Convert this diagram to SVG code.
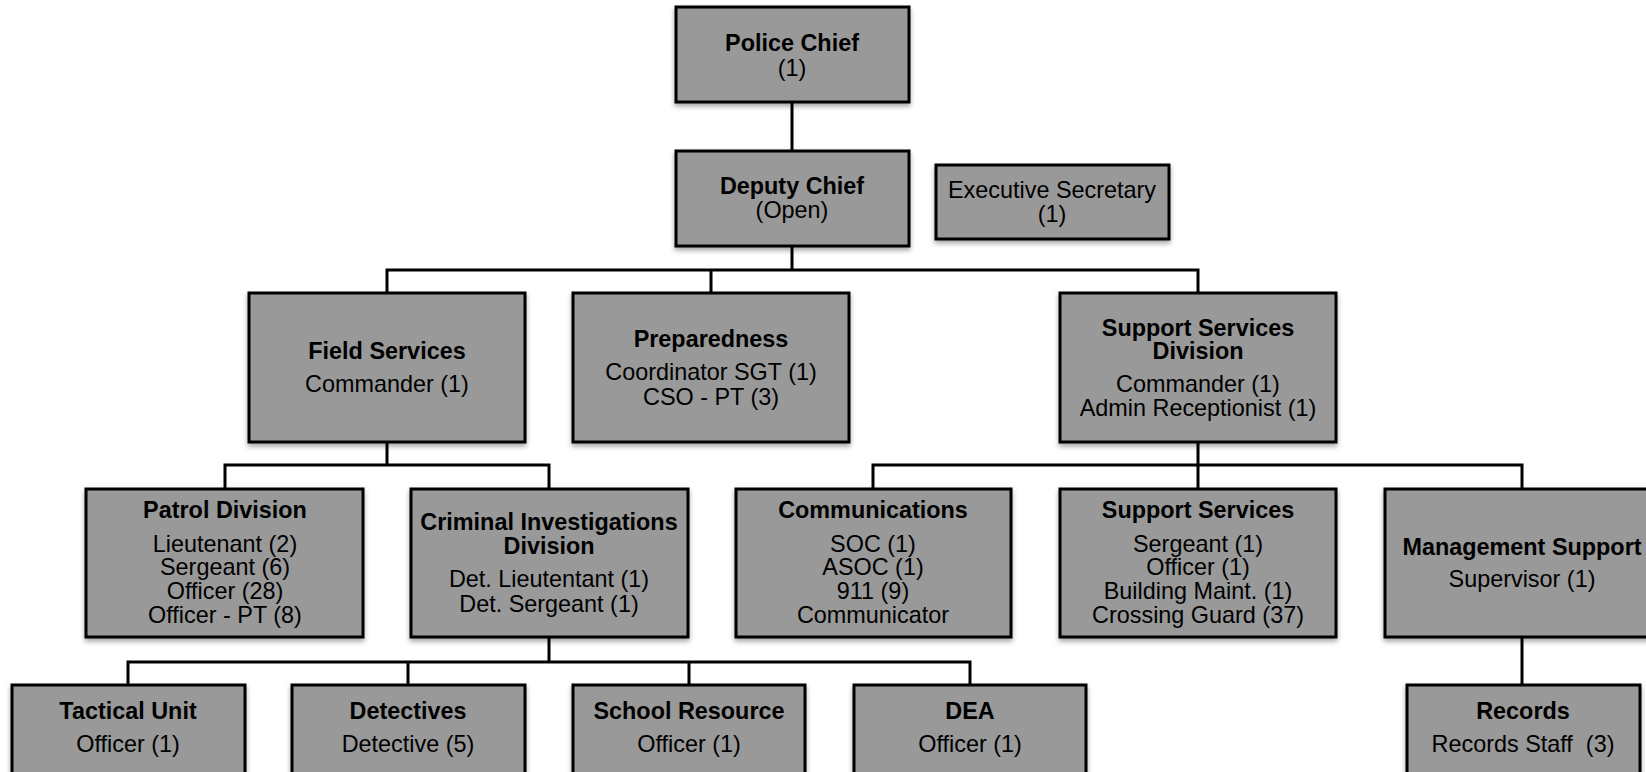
<svg xmlns="http://www.w3.org/2000/svg" width="1646" height="772" viewBox="0 0 1646 772">
<style>
.box{fill:#999999;stroke:#000;stroke-width:3;filter:url(#sh)}
.t{font-family:"Liberation Sans",Arial,sans-serif;font-size:23.4px;fill:#000;text-anchor:middle}
.b{font-weight:bold}
.c{stroke:#000;stroke-width:3;fill:none}
</style>
<defs>
<filter id="sh" x="-10%" y="-10%" width="120%" height="130%">
<feDropShadow dx="0" dy="3" stdDeviation="2.5" flood-color="#000" flood-opacity="0.35"/>
</filter>
</defs>
<rect width="1646" height="772" fill="#fff"/>
<g id="connectors">
<path class="c" d="M792 102V151"/>
<path class="c" d="M792 246V270M387 293V270H1198V293M711 270V293"/>
<path class="c" d="M387 442V465M225 489V465H549V489"/>
<path class="c" d="M1198 442V489M873 489V465H1522V489"/>
<path class="c" d="M549 637V662M128 685V662H970V685M408 662V685M689 662V685"/>
<path class="c" d="M1522 637V685"/>
</g>
<g id="police-chief"><rect class="box" x="676" y="7" width="233" height="95"/>
<text class="t b" x="792" y="51">Police Chief</text><text class="t" x="792" y="76">(1)</text></g>
<g id="deputy-chief"><rect class="box" x="676" y="151" width="233" height="95"/>
<text class="t b" x="792" y="194">Deputy Chief</text><text class="t" x="792" y="218">(Open)</text></g>
<g id="executive-secretary"><rect class="box" x="936" y="165" width="233" height="74"/>
<text class="t" x="1052" y="198">Executive Secretary</text><text class="t" x="1052" y="222">(1)</text></g>
<g id="field-services"><rect class="box" x="249" y="293" width="276" height="149"/>
<text class="t b" x="387" y="359">Field Services</text><text class="t" x="387" y="392">Commander (1)</text></g>
<g id="preparedness"><rect class="box" x="573" y="293" width="276" height="149"/>
<text class="t b" x="711" y="347">Preparedness</text><text class="t" x="711" y="380">Coordinator SGT (1)</text><text class="t" x="711" y="405">CSO - PT (3)</text></g>
<g id="support-services-division"><rect class="box" x="1060" y="293" width="276" height="149"/>
<text class="t b" x="1198" y="336">Support Services</text><text class="t b" x="1198" y="359">Division</text>
<text class="t" x="1198" y="392">Commander (1)</text><text class="t" x="1198" y="416">Admin Receptionist (1)</text></g>
<g id="patrol-division"><rect class="box" x="86" y="489" width="277" height="148"/>
<text class="t b" x="225" y="518">Patrol Division</text>
<text class="t" x="225" y="552">Lieutenant (2)</text><text class="t" x="225" y="575">Sergeant (6)</text>
<text class="t" x="225" y="599">Officer (28)</text><text class="t" x="225" y="623">Officer - PT (8)</text></g>
<g id="criminal-investigations"><rect class="box" x="411" y="489" width="277" height="148"/>
<text class="t b" x="549" y="530">Criminal Investigations</text><text class="t b" x="549" y="554">Division</text>
<text class="t" x="549" y="587">Det. Lieutentant (1)</text><text class="t" x="549" y="612">Det. Sergeant (1)</text></g>
<g id="communications"><rect class="box" x="736" y="489" width="275" height="148"/>
<text class="t b" x="873" y="518">Communications</text>
<text class="t" x="873" y="552">SOC (1)</text><text class="t" x="873" y="575">ASOC (1)</text>
<text class="t" x="873" y="599">911 (9)</text><text class="t" x="873" y="623">Communicator</text></g>
<g id="support-services"><rect class="box" x="1060" y="489" width="276" height="148"/>
<text class="t b" x="1198" y="518">Support Services</text>
<text class="t" x="1198" y="552">Sergeant (1)</text><text class="t" x="1198" y="575">Officer (1)</text>
<text class="t" x="1198" y="599">Building Maint. (1)</text><text class="t" x="1198" y="623">Crossing Guard (37)</text></g>
<g id="management-support"><rect class="box" x="1385" y="489" width="276" height="148"/>
<text class="t b" x="1522" y="555">Management Support</text><text class="t" x="1522" y="587">Supervisor (1)</text></g>
<g id="tactical-unit"><rect class="box" x="12" y="685" width="233" height="100"/>
<text class="t b" x="128" y="719">Tactical Unit</text><text class="t" x="128" y="752">Officer (1)</text></g>
<g id="detectives"><rect class="box" x="292" y="685" width="233" height="100"/>
<text class="t b" x="408" y="719">Detectives</text><text class="t" x="408" y="752">Detective (5)</text></g>
<g id="school-resource"><rect class="box" x="573" y="685" width="232" height="100"/>
<text class="t b" x="689" y="719">School Resource</text><text class="t" x="689" y="752">Officer (1)</text></g>
<g id="dea"><rect class="box" x="854" y="685" width="232" height="100"/>
<text class="t b" x="970" y="719">DEA</text><text class="t" x="970" y="752">Officer (1)</text></g>
<g id="records"><rect class="box" x="1407" y="685" width="233" height="100"/>
<text class="t b" x="1523" y="719">Records</text><text class="t" x="1523" y="752" xml:space="preserve">Records Staff  (3)</text></g>
</svg>
